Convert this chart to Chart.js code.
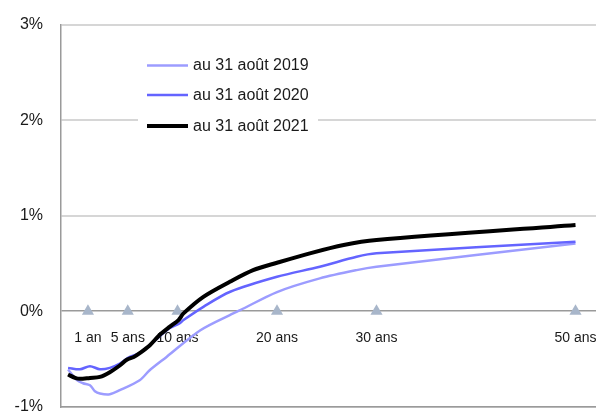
<!DOCTYPE html>
<html>
<head>
<meta charset="utf-8">
<script src="https://cdn.jsdelivr.net/npm/chart.js@4/dist/chart.umd.min.js"></script>
<style>
html,body{margin:0;padding:0;background:#fff;}
#wrap{width:596px;height:414px;position:relative;}
</style>
</head>
<body>
<div id="wrap"><canvas id="c" width="596" height="414"></canvas></div>
<script>
// Series labels
const seriesLabels = ['au 31 août 2019', 'au 31 août 2020', 'au 31 août 2021'];

// Maturities (years) and rates (%)
const x2019 = [-1, -0.1, 0.5, 1.2, 1.7, 2.2, 3.2, 4.2, 6.2, 7.2, 8.9, 12.3, 15.6, 16.3, 20, 24.3, 28, 30, 50];
const y2019 = [-0.612, -0.724, -0.756, -0.777, -0.84, -0.864, -0.871, -0.829, -0.724, -0.62, -0.48, -0.2, -0.024, 0.01, 0.2, 0.343, 0.43, 0.465, 0.71];

const x2020 = [-1, 0.2, 1.2, 2.2, 3.2, 4.2, 5.2, 6.2, 7.2, 8.2, 9.2, 10.2, 10.6, 12.6, 15.3, 20, 24.3, 28, 30, 50];
const y2020 = [-0.595, -0.61, -0.577, -0.61, -0.595, -0.55, -0.48, -0.44, -0.36, -0.265, -0.18, -0.13, -0.094, 0.045, 0.203, 0.36, 0.465, 0.57, 0.606, 0.728];

const x2021 = [-1, -0.3, 0.2, 1.2, 2.2, 3.2, 4.2, 4.9, 5.6, 6.2, 7.2, 8.2, 9.2, 10.1, 10.6, 12.6, 15.3, 17.6, 20, 23.3, 26.7, 30, 50];
const y2021 = [-0.665, -0.70, -0.71, -0.70, -0.69, -0.64, -0.57, -0.51, -0.48, -0.44, -0.36, -0.25, -0.165, -0.094, -0.024, 0.15, 0.31, 0.43, 0.507, 0.606, 0.693, 0.745, 0.903];

// Maturity markers
const maturityTicks = [1, 5, 10, 20, 30, 50];
const maturityLabels = ['1 an', '5 ans', '10 ans', '20 ans', '30 ans', '50 ans'];

// Y axis ticks (%)
const yTicks = [-1, 0, 1, 2, 3];

const colors = ['#9c9cff', '#6464ff', '#000000'];
const widths = [2.5, 2.5, 4];

const FONT = "'Liberation Sans', Arial, sans-serif";
Chart.defaults.font.family = FONT;

function pts(xs, ys) { return xs.map((x, i) => ({x: x, y: ys[i]})); }

const maturityPlugin = {
  id: 'maturityLabels',
  beforeDatasetsDraw(chart) {
    const ctx = chart.ctx;
    const xs = chart.scales.x, ys = chart.scales.y;
    ctx.save();
    ctx.font = '14px ' + FONT;
    ctx.fillStyle = '#1a1a1a';
    ctx.textAlign = 'center';
    ctx.textBaseline = 'middle';
    const y0 = ys.getPixelForValue(0);
    maturityTicks.forEach((m, i) => {
      ctx.fillText(maturityLabels[i], xs.getPixelForValue(m), y0 + 27);
    });
    ctx.restore();
  }
};

const legendPlugin = {
  id: 'customLegend',
  afterDraw(chart) {
    const ctx = chart.ctx;
    ctx.save();
    ctx.fillStyle = '#ffffff';
    ctx.fillRect(138, 46, 180, 98);
    ctx.font = '16px ' + FONT;
    ctx.textAlign = 'left';
    ctx.textBaseline = 'middle';
    const rows = [65.5, 95, 126];
    for (let i = 0; i < 3; i++) {
      ctx.strokeStyle = colors[i];
      ctx.lineWidth = widths[i];
      ctx.beginPath();
      ctx.moveTo(147, rows[i]);
      ctx.lineTo(188, rows[i]);
      ctx.stroke();
      ctx.fillStyle = '#1a1a1a';
      ctx.fillText(seriesLabels[i], 193, rows[i] + 0.5);
    }
    ctx.restore();
  }
};

new Chart(document.getElementById('c'), {
  type: 'line',
  data: {
    datasets: [
      {label: seriesLabels[2], data: pts(x2021, y2021), borderColor: colors[2], borderWidth: widths[2], pointRadius: 0, tension: 0.3, order: 1},
      {label: seriesLabels[1], data: pts(x2020, y2020), borderColor: colors[1], borderWidth: widths[1], pointRadius: 0, tension: 0.3, order: 2},
      {label: seriesLabels[0], data: pts(x2019, y2019), borderColor: colors[0], borderWidth: widths[0], pointRadius: 0, tension: 0.3, order: 3},
      {label: 'maturités', data: maturityTicks.map(m => ({x: m, y: 0})), showLine: false, pointStyle: 'triangle', pointRadius: 7, backgroundColor: '#a8b6ca', borderWidth: 0, order: 4}
    ]
  },
  options: {
    responsive: false,
    animation: false,
    devicePixelRatio: 1,
    layout: {autoPadding: false, padding: {left: 0, right: 0, top: 25, bottom: 0}},
    plugins: {legend: {display: false}, tooltip: {enabled: false}},
    scales: {
      x: {
        type: 'linear',
        min: -1.71,
        max: 52.06,
        grid: {display: false},
        ticks: {display: false},
        border: {display: true, color: '#9a9a9a', width: 1.5},
        afterFit(s) { s.height = 7.5; }
      },
      y: {
        min: -1,
        max: 3,
        afterBuildTicks(s) { s.ticks = yTicks.map(v => ({value: v})); },
        ticks: {
          padding: 0,
          color: '#1a1a1a',
          font: {size: 16, family: FONT, lineHeight: 0.8},
          callback: v => v + '%'
        },
        grid: {
          drawTicks: true,
          tickLength: 18,
          tickColor: 'rgba(0,0,0,0)',
          color: ctx => (ctx.tick && ctx.tick.value === 0) ? '#9a9a9a' : '#d6d6d6',
          lineWidth: ctx => (ctx.tick && ctx.tick.value === 0) ? 1.5 : 2
        },
        border: {display: true, color: '#9a9a9a', width: 1.5},
        afterFit(s) { s.width = 61; }
      }
    }
  },
  plugins: [maturityPlugin, legendPlugin]
});
</script>
</body>
</html>
